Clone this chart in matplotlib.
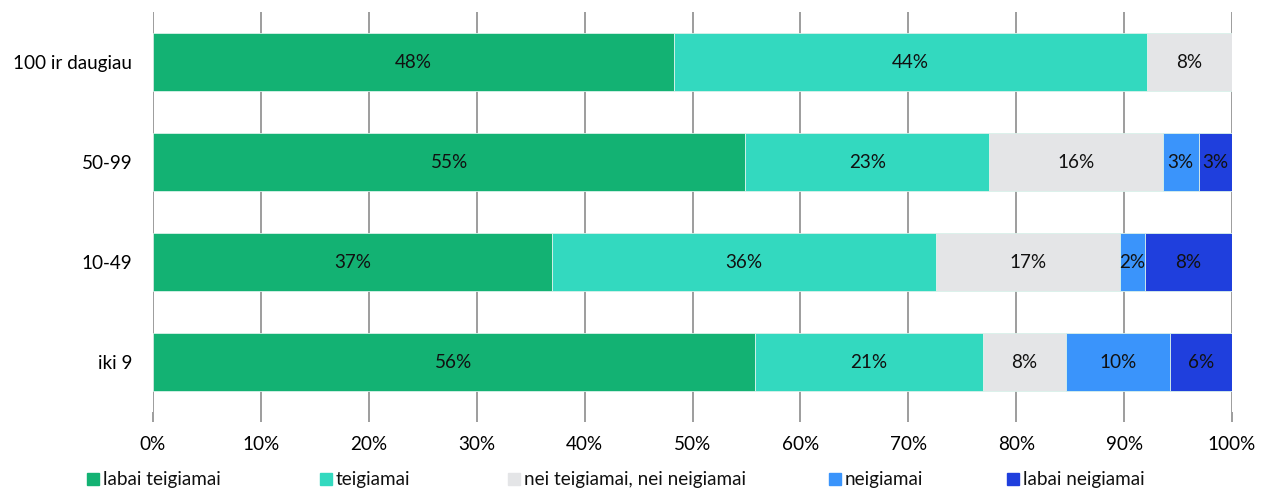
import matplotlib
matplotlib.use('Agg')
import matplotlib.pyplot as plt
from matplotlib.patches import Rectangle

plt.rcParams['font.family'] = ['Lato', 'DejaVu Sans']
FS = 13.6

# duomenys (nuo apačios į viršų)
categories = ['iki 9', '10-49', '50-99', '100 ir daugiau']
series_names = ['labai teigiamai', 'teigiamai', 'nei teigiamai, nei neigiamai',
                'neigiamai', 'labai neigiamai']
values = [
    [55.8, 37.0, 54.9, 48.3],   # labai teigiamai
    [21.1, 35.6, 22.6, 43.8],   # teigiamai
    [7.7, 17.0, 16.1, 7.9],     # nei teigiamai, nei neigiamai
    [9.7, 2.3, 3.3, 0.0],       # neigiamai
    [5.7, 8.1, 3.1, 0.0],       # labai neigiamai
]
colors = ['#13B273', '#33D9BF', '#E4E5E7', '#3A94FB', '#1F3FDD']

fig = plt.figure(figsize=(12.73, 4.93), dpi=100)
ax = fig.add_axes([153 / 1273, 81 / 493, 1079 / 1273, 400 / 493])

left = [0.0] * len(categories)
for vals, col in zip(values, colors):
    for i, v in enumerate(vals):
        if v <= 0:
            continue
        ax.barh(i, v, left=left[i], height=0.58, color=col,
                edgecolor='#d9f2ea', linewidth=0.6, zorder=3)
        ax.text(left[i] + v / 2, i, f'{v:.0f}%', ha='center', va='center',
                fontsize=FS, color='#111111', zorder=4)
        left[i] += v

ax.set_xlim(0, 100)
ax.set_ylim(-0.5, 3.5)
ax.set_xticks(range(0, 101, 10))
ax.set_xticklabels([f'{t}%' for t in range(0, 101, 10)], fontsize=FS)
ax.set_yticks(range(len(categories)))
ax.set_yticklabels(categories, fontsize=FS)
ax.tick_params(axis='x', length=7, color='#8c8c8c', width=1.2, pad=10)
ax.tick_params(axis='y', length=0, pad=15)
ax.grid(axis='x', color='#8c8c8c', linewidth=1.2, zorder=0)
for s in ax.spines.values():
    s.set_visible(False)

# legenda
leg_x = [87, 320, 508, 829, 1007]
for x, name, col in zip(leg_x, series_names, colors):
    fig.patches.append(Rectangle((x / 1273, (493 - 485) / 493), 12 / 1273, 12 / 493,
                                 transform=fig.transFigure, color=col))
    fig.text((x + 16) / 1273, (493 - 479) / 493, name, fontsize=FS,
             va='center', ha='left', color='#111111')

fig.savefig('out.png', dpi=100)
